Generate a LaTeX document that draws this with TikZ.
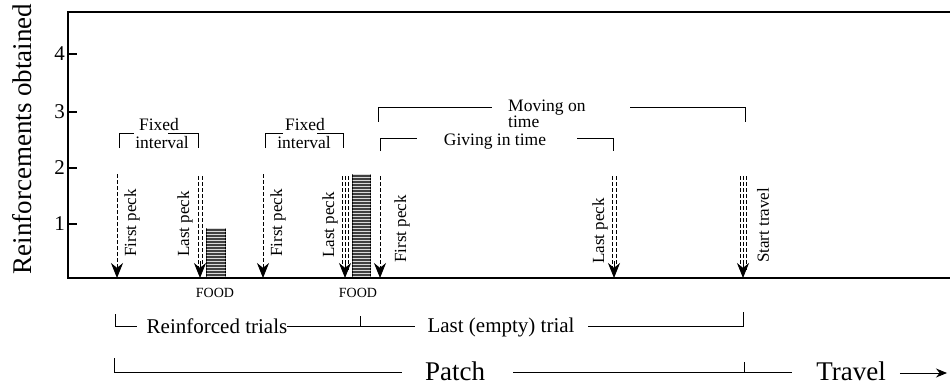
\documentclass[tikz,border=0pt]{standalone}
\usepackage{fontspec}
\setmainfont{Liberation Serif}
\usepackage{tikz}
\usetikzlibrary{arrows.meta, patterns}
\newcommand{\pxfont}[1]{\fontsize{#1}{#1}\selectfont}

\begin{document}
\begin{tikzpicture}[x=1pt, y=-1pt,
  axisline/.style={line width=1.3pt},
  peck/.style={line width=0.9pt, dash pattern=on 4pt off 2pt,
               -{Stealth[length=15pt, width=12pt]}},
  lane/.style={line width=0.9pt, dash pattern=on 4pt off 2pt},
  head/.style={line width=0.9pt, -{Stealth[length=15pt, width=12pt]}},
  lbl/.style={font=\pxfont{17}, rotate=90, anchor=west, inner sep=0pt},
  bkt/.style={line width=0.9pt},
  btxt/.style={font=\pxfont{17.5}, inner sep=0pt},
  food/.style={draw, line width=1.2pt, fill=black!75, inner sep=0pt,
               postaction={pattern=horizontal lines, pattern color=white!85!black},
               anchor=south west},
  foodlbl/.style={font=\pxfont{14}, inner sep=0pt},
  rowtxt/.style={font=\pxfont{21}, inner sep=0pt, anchor=base},
  bigtxt/.style={font=\pxfont{27}, inner sep=0pt}
]
\useasboundingbox (0,0) rectangle (950,385);

% Frame and axis
\draw[axisline] (950,12) -- (68,12) -- (68,278) -- (950,278);
\foreach \v/\yy in {1/224, 2/168, 3/112, 4/54} {
  \draw[axisline] (68,\yy) -- (77,\yy);
  \node[font=\pxfont{21}, anchor=east, inner sep=0pt] (tick\v) at (65,\yy) {\v};
}
\node[bigtxt, rotate=90] (ylab) at (22,139) {Reinforcements obtained};

% Trial 1
\coordinate (fp1) at (117,174);
\coordinate (fp1e) at (117,278);
\draw[peck] (fp1) -- (fp1e);
\node[lbl] (fp1l) at (132,257) {First peck};
\coordinate (lp1) at (200,176);
\coordinate (lp1e) at (200,278);
\foreach \d in {-2,2}
  \draw[lane] ([xshift=\d pt]lp1) -- ([shift={(\d,-7)}]lp1e);
\draw[head] ([shift={(0,-17)}]lp1e) -- (lp1e);
\node[lbl] (lp1l) at (185,257) {Last peck};
\node[food, minimum width=19pt, minimum height=49pt] (food1) at (206,278) {};
\node[foodlbl] (food1l) at (215,293) {FOOD};

% Trial 2
\coordinate (fp2) at (263,174);
\coordinate (fp2e) at (263,278);
\draw[peck] (fp2) -- (fp2e);
\node[lbl] (fp2l) at (278,257) {First peck};
\coordinate (lp2) at (345,176);
\coordinate (lp2e) at (345,278);
\foreach \d in {-3,0,3}
  \draw[lane] ([xshift=\d pt]lp2) -- ([shift={(\d,-7)}]lp2e);
\draw[head] ([shift={(0,-17)}]lp2e) -- (lp2e);
\node[lbl] (lp2l) at (330,258) {Last peck};
\node[food, minimum width=18pt, minimum height=103pt] (food2) at (352,278) {};
\node[foodlbl] (food2l) at (358,293) {FOOD};

% Last (empty) trial
\coordinate (fp3) at (380,176);
\coordinate (fp3e) at (380,278);
\draw[peck] (fp3) -- (fp3e);
\node[lbl] (fp3l) at (402,263) {First peck};
\coordinate (lp3) at (614,176);
\coordinate (lp3e) at (614,278);
\foreach \d in {-2,2}
  \draw[lane] ([xshift=\d pt]lp3) -- ([shift={(\d,-7)}]lp3e);
\draw[head] ([shift={(0,-17)}]lp3e) -- (lp3e);
\node[lbl] (lp3l) at (600,264) {Last peck};
\coordinate (st) at (743,176);
\coordinate (ste) at (743,278);
\foreach \d in {-3,0,3}
  \draw[lane] ([xshift=\d pt]st) -- ([shift={(\d,-7)}]ste);
\draw[head] ([shift={(0,-17)}]ste) -- (ste);
\node[lbl] (stl) at (763,263) {Start travel};

% Brackets above
\node[btxt, anchor=base] (fix1) at (159,131) {Fixed};
\node[btxt, anchor=base] (int1) at (162,148) {interval};
\draw[bkt] (119,148) |- (134,133);
\draw[bkt] (168,133) -| (198,148);
\node[btxt, anchor=base] (fix2) at (305,131) {Fixed};
\node[btxt, anchor=base] (int2) at (304,148) {interval};
\draw[bkt] (265,148) |- (283,133);
\draw[bkt] (317,133) -| (343,148);
\node[btxt, anchor=base west] (mov) at (508,112) {Moving on};
\node[btxt, anchor=base west] (movt) at (508,128) {time};
\draw[bkt] (378,122) |- (492,107);
\draw[bkt] (630,107) -| (745,122);
\node[btxt, anchor=base] (give) at (495,146) {Giving in time};
\draw[bkt] (380,151) |- (417,138);
\draw[bkt] (577,138) -| (613,151);

% Trials row
\node[rowtxt] (reinf) at (217,333) {Reinforced trials};
\node[rowtxt] (empty) at (501,332) {Last (empty) trial};
\draw[bkt] (115,314) |- (137,326);
\draw[bkt] (287,326) -- (415,326);
\draw[bkt] (360,316) -- (360,326);
\draw[bkt] (588,326) -| (743,312);

% Patch / travel row
\node[bigtxt, anchor=base] (patch) at (455,380) {Patch};
\node[bigtxt, anchor=base] (travel) at (851,380) {Travel};
\draw[bkt] (114,358) |- (402,372);
\draw[bkt] (513,372) -- (792,372);
\draw[bkt] (744,362) -- (744,372);
\coordinate (tend) at (947,373);
\draw[bkt, -{Stealth[length=11pt, width=9pt]}] ([xshift=14pt]travel.east |- tend) -- (tend);
\end{tikzpicture}
\end{document}
